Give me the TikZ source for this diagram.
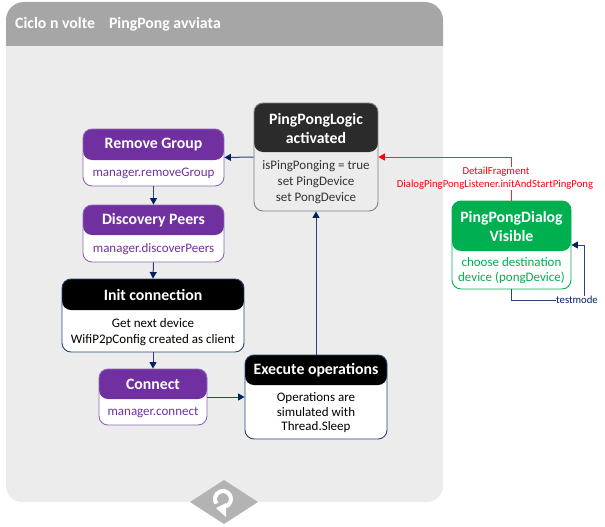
\documentclass[tikz,border=0pt]{standalone}
\usepackage{fontspec}
\setmainfont{Carlito}
\usetikzlibrary{arrows.meta,calc}

\definecolor{panelgray}{HTML}{ECECEC}
\definecolor{headgray}{HTML}{A6A6A6}
\definecolor{loopgray}{HTML}{B3B3B3}
\definecolor{navyline}{HTML}{2A4478}
\definecolor{navytip}{HTML}{002060}
\definecolor{purplehead}{HTML}{7030A0}
\definecolor{purpleline}{HTML}{9068B4}
\definecolor{greenhead}{HTML}{00B050}

\newcommand{\statebox}[8]{
\begin{scope}[#1]
\node [boxshape, minimum width=#4, minimum height=#5,
    path picture={\fill[headcol] (path picture bounding box.north west)
    rectangle ([yshift=-#6]path picture bounding box.north east);}] (#2) at (#3) {};
\node [titletext] (#2-title) at ([yshift=-#6/2-1pt]#2.north) {#7};
\node [bodytext] (#2-body) at ($([yshift=-#6-1.4pt]#2.north)!.5!(#2.south)$) {#8};
\end{scope}
}

\begin{document}
\begin{tikzpicture}
[
    x=1pt, y=-1pt,
    boxshape/.style={draw=edgecol, fill=bodycol, line width=.9pt, rounded corners=9pt, inner sep=0pt},
    titletext/.style={text=white, align=center, inner sep=0pt, font=\fontsize{15.8}{19}\selectfont\bfseries},
    bodytext/.style={text=textcol, align=center, inner sep=0pt, font=\fontsize{13}{14.5}\selectfont},
    purplebox/.code={\colorlet{headcol}{purplehead}\colorlet{edgecol}{purpleline}\colorlet{bodycol}{white}\colorlet{textcol}{purplehead}},
    blackbox/.code={\colorlet{headcol}{black}\colorlet{edgecol}{navyline}\colorlet{bodycol}{white}\colorlet{textcol}{black}},
    logicbox/.code={\colorlet{headcol}{black!83}\colorlet{edgecol}{black!50}\colorlet{bodycol}{panelgray}\colorlet{textcol}{black!80}},
    greenbox/.code={\colorlet{headcol}{greenhead}\colorlet{edgecol}{greenhead}\colorlet{bodycol}{white}\colorlet{textcol}{greenhead}},
    flow/.style={draw=navyline, line width=1pt, -{Triangle[length=6.5pt,width=7pt,color=navytip]}},
    flowplain/.style={draw=navyline, line width=1pt},
    redflow/.style={draw=red!85, line width=.9pt, -{Triangle[length=6.5pt,width=7pt,color=red]}},
    redlabel/.style={text=red, inner sep=0pt, font=\fontsize{10.7}{13}\selectfont},
]
\useasboundingbox (0,0) rectangle (605,527);

% panel
\fill[panelgray, rounded corners=16pt] (6,30) -- (6,502) -- (443,502) -- (443,30);
\fill[headgray, rounded corners=18pt] (6,46) -- (6,2) -- (443,2) -- (443,46);
\node [titletext, anchor=west] (paneltitle) at (15,24) {Ciclo n volte\hspace{14pt}PingPong avviata};

% loop mark
\fill[loopgray] (190,502) -- (224,480) -- (258,502) -- (224,524) -- cycle;
\draw[white, line width=4pt] (225.7,506.5) arc[start angle=70, end angle=-215, radius=8];
\fill[white] (216,508) -- (226,503) -- (226,517) -- cycle;

% boxes
\statebox{logicbox}{logic}{316,157}{124}{108}{49}{PingPongLogic\\activated}{isPingPonging = true\\[1.5pt]set PingDevice\\[1.5pt]set PongDevice}
\statebox{purplebox}{removegroup}{153.5,157.5}{141}{57}{31}{Remove Group}{manager.removeGroup}
\statebox{purplebox}{discovery}{153.5,233.5}{141}{57}{30}{Discovery Peers}{manager.discoverPeers}
\statebox{blackbox}{initconn}{153,315.5}{182}{73}{31}{Init connection}{Get next device\\[1.5pt]WifiP2pConfig created as client}
\statebox{purplebox}{connect}{153,397}{108}{56}{30}{Connect}{manager.connect}
\statebox{blackbox}{execute}{316,397}{142}{84}{30}{Execute operations}{Operations are\\simulated with\\Thread.Sleep}
\statebox{greenbox}{dialog}{511.5,245}{119}{88}{50}{PingPongDialog\\Visible}{choose destination\\device (pongDevice)}

% connectors
\draw[flow] (logic.west) -- (removegroup.east);
\draw[flow] (removegroup.south) -- (discovery.north);
\draw[flow] (discovery.south) -- (initconn.north);
\draw[flow] (initconn.south) -- (connect.north);
\draw[flow] (connect.east) -- (execute.west);
\draw[flow] (execute.north) -- (logic.south);

% red call with its label
\node [redlabel] (detailfragment) at (496,172) {DetailFragment};
\node [redlabel] (listener) at (495,185) {DialogPingPongListener.initAndStartPingPong};
\coordinate (redgapa) at (dialog.north |- listener.south);
\coordinate (redgapb) at (dialog.north |- detailfragment.north);
\draw[draw=red!85, line width=.9pt] (dialog.north) -- (redgapa);
\draw[redflow] (redgapb) |- (logic.east);

% testmode
\node [text=navytip, inner sep=0pt, font=\fontsize{10.7}{13}\selectfont] (testmode) at (577,300) {testmode};
\draw[flowplain] (dialog.south) |- (testmode.west);
\draw[flow] (testmode.north -| 584,0) |- (dialog.east);
\end{tikzpicture}
\end{document}
